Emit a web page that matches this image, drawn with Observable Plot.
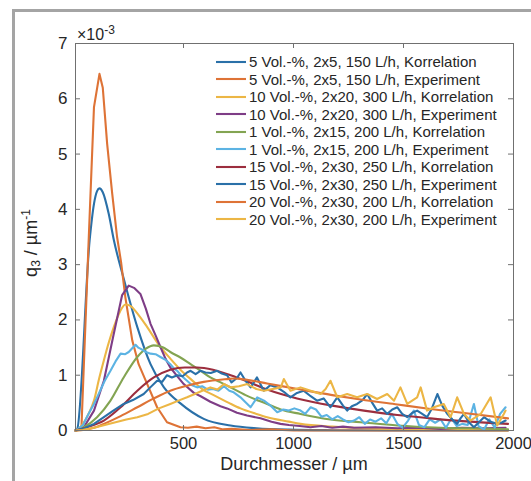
<!DOCTYPE html>
<html>
<head>
<meta charset="utf-8">
<script src="https://cdn.jsdelivr.net/npm/d3@7"></script>
<script src="https://cdn.jsdelivr.net/npm/@observablehq/plot@0.6"></script>
<style>
  html, body { margin: 0; padding: 0; background: #fff; }
  #wrap { position: relative; width: 531px; height: 481px; overflow: hidden; background: #fff;
          font-family: "Liberation Sans", Arial, Helvetica, sans-serif; color: #262626; }
  #wrap svg.plot { position: absolute; left: 0; top: 0; overflow: visible; }
  .frameTop { position: absolute; left: 12px; top: 9px; right: 0; height: 3px; background: #a4a4a4; }
  .frameLeft { position: absolute; left: 12px; top: 9px; bottom: 0; width: 3px; background: #a4a4a4; }
  .legend { position: absolute; left: 215px; top: 53px; font-size: 15px; line-height: 17.5px; }
  .legend .row { display: flex; align-items: center; height: 17.5px; white-space: nowrap; }
  .legend svg { display: block; margin-right: 2px; }
  .xlabel { position: absolute; left: 294px; top: 454px; transform: translateX(-50%); font-size: 18px; white-space: nowrap; }
  .ylabel { position: absolute; left: 31px; top: 243px; transform: translate(-50%, -50%) rotate(-90deg); font-size: 18px; white-space: nowrap; }
  .ylabel sub { font-size: 12px; vertical-align: -3px; }
  .ylabel sup { font-size: 12px; vertical-align: 7px; }
  .exp { position: absolute; left: 77px; top: 23px; font-size: 16px; white-space: nowrap; }
  .exp sup { font-size: 12px; vertical-align: 6px; }
</style>
</head>
<body>
<div id="wrap">
  <div class="frameTop"></div>
  <div class="frameLeft"></div>
</div>
<script>
// ---------- data (q3 in units of 10^-3 µm^-1, diameter in µm) ----------
const seriesNames = [
  "5 Vol.-%, 2x5, 150 L/h, Korrelation",
  "5 Vol.-%, 2x5, 150 L/h, Experiment",
  "10 Vol.-%, 2x20, 300 L/h, Korrelation",
  "10 Vol.-%, 2x20, 300 L/h, Experiment",
  "1 Vol.-%, 2x15, 200 L/h, Korrelation",
  "1 Vol.-%, 2x15, 200 L/h, Experiment",
  "15 Vol.-%, 2x30, 250 L/h, Korrelation",
  "15 Vol.-%, 2x30, 250 L/h, Experiment",
  "20 Vol.-%, 2x30, 200 L/h, Korrelation",
  "20 Vol.-%, 2x30, 200 L/h, Experiment"
];
const seriesColors = ["#2a70a8","#de7336","#ecb645","#7e3d86","#83a452","#5cb3e3","#9c2e3e","#2a70a8","#de7336","#ecb645"];
const xTicks = [500, 1000, 1500, 2000];
const yTicks = [0, 1, 2, 3, 4, 5, 6, 7];

const d1 = [9, 17, 73, 93, 107, 118, 133, 160, 183, 228, 290, 350, 411, 486, 592, 714, 831, 979, 1176, 1472, 1975];
const q1 = [0, 0.03, 3.43, 4.1, 4.33, 4.38, 4.31, 3.92, 3.45, 2.75, 1.87, 1.2, 0.78, 0.49, 0.21, 0.09, 0.04, 0.015, 0.005, 0, 0];

const d2 = [9, 36, 70, 93, 118, 133, 153, 176, 198, 216, 236, 267, 296, 335, 380, 425, 486, 520, 560, 600, 640, 680, 720, 800, 900, 1000, 1975];
const q2 = [0, 0.05, 3.56, 5.85, 6.45, 6.2, 5.18, 4.28, 3.5, 3.05, 2.4, 1.63, 1.2, 0.84, 0.42, 0.15, 0.06, 0.05, 0.07, 0.04, 0.06, 0.02, 0.03, 0.01, 0.02, 0, 0];

const d3 = [9, 19, 43, 68, 93, 117, 138, 161, 183, 211, 236, 260, 290, 335, 388, 440, 486, 547, 585, 637, 706, 759, 831, 880, 979, 1032, 1176, 1275, 1373, 1570, 1767, 1975];
const q3 = [0, 0.02, 0.12, 0.3, 0.54, 0.95, 1.27, 1.6, 1.87, 2.15, 2.28, 2.25, 2.12, 1.87, 1.55, 1.3, 1.1, 0.88, 0.75, 0.64, 0.5, 0.4, 0.3, 0.24, 0.16, 0.12, 0.07, 0.05, 0.035, 0.02, 0.01, 0.005];

const d4 = [9, 24, 47, 93, 138, 183, 221, 251, 275, 304, 329, 350, 373, 395, 418, 440, 472, 501, 547, 578, 622, 668, 698, 743, 789, 850, 900, 941, 979, 1028, 1077, 1127, 1176, 1225, 1275, 1373, 1472, 1570, 1669, 1767, 1866, 1964];
const q4 = [0, 0.01, 0.06, 0.36, 0.9, 1.75, 2.45, 2.62, 2.58, 2.47, 2.2, 1.93, 1.72, 1.51, 1.3, 1.14, 0.98, 0.84, 0.68, 0.62, 0.52, 0.44, 0.4, 0.32, 0.27, 0.22, 0.16, 0.12, 0.1, 0.08, 0.06, 0.08, 0.05, 0.07, 0.05, 0.06, 0.04, 0.05, 0.03, 0.05, 0.04, 0.05];

const d5 = [9, 47, 107, 168, 228, 290, 329, 365, 408, 440, 486, 532, 578, 622, 664, 714, 782, 880, 942, 1032, 1168, 1305, 1472, 1669, 1925, 1975];
const q5 = [0, 0.06, 0.24, 0.54, 0.96, 1.33, 1.48, 1.54, 1.5, 1.42, 1.32, 1.2, 1.08, 0.96, 0.88, 0.78, 0.64, 0.48, 0.38, 0.3, 0.2, 0.15, 0.09, 0.05, 0.03, 0.02];

const d6 = [9, 19, 43, 68, 93, 107, 142, 168, 191, 214, 235, 251, 270, 282, 294, 304, 329, 350, 373, 395, 418, 440, 457, 471, 493, 516, 539, 562, 585, 610, 634, 659, 684, 708, 728, 759, 790, 805, 835, 866, 895, 926, 954, 979, 1004, 1032, 1053, 1078, 1102, 1127, 1151, 1176, 1201, 1225, 1250, 1275, 1299, 1324, 1348, 1373, 1398, 1422, 1447, 1472, 1496, 1521, 1547, 1570, 1595, 1619, 1644, 1669, 1693, 1718, 1742, 1767, 1792, 1820, 1841, 1866, 1890, 1915, 1939, 1964];
const q6 = [0, 0.02, 0.1, 0.3, 0.48, 0.6, 0.9, 1.08, 1.25, 1.39, 1.38, 1.42, 1.5, 1.55, 1.5, 1.48, 1.42, 1.39, 1.38, 1.33, 1.28, 1.2, 1.12, 1.08, 0.98, 0.9, 0.82, 0.78, 0.8, 0.74, 0.75, 0.72, 0.8, 0.72, 0.69, 0.6, 0.48, 0.42, 0.6, 0.54, 0.45, 0.33, 0.38, 0.36, 0.4, 0.36, 0.3, 0.42, 0.38, 0.25, 0.28, 0.2, 0.26, 0.2, 0.15, 0.18, 0.24, 0.12, 0.2, 0.16, 0.22, 0.13, 0.3, 0.12, 0.05, 0.18, 0.36, 0.1, 0.06, 0.2, 0.14, 0.2, 0.05, 0.22, 0.08, 0.12, 0.1, 0.48, 0.08, 0.02, 0.2, 0.05, 0.3, 0.42];

const d7 = [9, 62, 138, 214, 290, 365, 440, 506, 562, 634, 714, 782, 880, 1016, 1176, 1320, 1472, 1623, 1767, 1975];
const q7 = [0, 0.06, 0.18, 0.42, 0.72, 0.96, 1.1, 1.14, 1.14, 1.1, 1.0, 0.9, 0.74, 0.58, 0.45, 0.36, 0.28, 0.22, 0.17, 0.12];

const d8 = [9, 43, 93, 138, 181, 228, 270, 319, 349, 380, 403, 425, 447, 472, 496, 516, 532, 555, 577, 600, 624, 653, 674, 698, 718, 743, 759, 782, 805, 834, 865, 895, 926, 956, 986, 1016, 1046, 1078, 1107, 1137, 1168, 1199, 1225, 1244, 1265, 1289, 1314, 1335, 1358, 1380, 1403, 1426, 1449, 1472, 1494, 1517, 1540, 1562, 1585, 1607, 1629, 1654, 1676, 1699, 1722, 1744, 1759, 1775, 1797, 1820, 1843, 1866, 1895, 1926, 1949, 1964];
const q8 = [0, 0.03, 0.12, 0.24, 0.36, 0.48, 0.55, 0.66, 0.78, 0.9, 0.88, 1.0, 0.96, 1.0, 0.98, 1.05, 1.08, 1.02, 1.08, 1.05, 1.04, 1.08, 1.03, 1.0, 0.87, 0.95, 1.05, 0.9, 0.78, 0.96, 0.72, 0.82, 0.78, 0.7, 0.6, 0.68, 0.72, 0.62, 0.54, 0.58, 0.42, 0.6, 0.45, 0.36, 0.44, 0.48, 0.55, 0.66, 0.5, 0.36, 0.4, 0.3, 0.38, 0.42, 0.3, 0.24, 0.32, 0.36, 0.3, 0.24, 0.4, 0.66, 0.45, 0.3, 0.2, 0.12, 0.22, 0.3, 0.15, 0.06, 0.15, 0.24, 0.16, 0.12, 0.15, 0.18];

const d9 = [9, 43, 93, 138, 214, 290, 365, 440, 516, 592, 698, 728, 782, 880, 1032, 1176, 1305, 1472, 1623, 1767, 1975];
const q9 = [0, 0.01, 0.05, 0.12, 0.26, 0.42, 0.58, 0.72, 0.81, 0.88, 0.93, 0.94, 0.92, 0.85, 0.74, 0.64, 0.56, 0.47, 0.39, 0.32, 0.22];

const d10 = [9, 43, 93, 142, 191, 240, 290, 339, 388, 440, 477, 516, 546, 585, 622, 654, 684, 714, 752, 790, 831, 866, 905, 942, 956, 986, 1032, 1078, 1123, 1146, 1168, 1199, 1244, 1289, 1335, 1380, 1426, 1457, 1486, 1517, 1562, 1578, 1607, 1638, 1683, 1714, 1744, 1775, 1804, 1851, 1896, 1926, 1956, 1964];
const q10 = [0, 0.01, 0.05, 0.1, 0.15, 0.2, 0.24, 0.3, 0.4, 0.48, 0.54, 0.6, 0.65, 0.72, 0.78, 0.74, 0.84, 0.78, 0.8, 0.84, 0.75, 0.72, 0.75, 0.78, 0.93, 0.72, 0.78, 0.72, 0.66, 0.75, 0.9, 0.6, 0.66, 0.6, 0.66, 0.57, 0.66, 0.54, 0.78, 0.48, 0.6, 0.78, 0.36, 0.42, 0.48, 0.24, 0.6, 0.3, 0.18, 0.3, 0.6, 0.09, 0.3, 0.36];

// ---------- build ----------
const D = [d1, d2, d3, d4, d5, d6, d7, d8, d9, d10];
const Q = [q1, q2, q3, q4, q5, q6, q7, q8, q9, q10];
const rows = D.map((ds, i) => ds.map((d, j) => ({d, q: Q[i][j], s: i})));

const W = 531, H = 481, mL = 75, mR = 18, mT = 43, mB = 51;
const innerW = W - mL - mR, innerH = H - mT - mB, tickLen = 5;
const axisColor = "#707070";
const FONT = '"Liberation Sans", Arial, Helvetica, sans-serif';
const fmt = d => String(d);

const lineMarks = rows.map((r, i) => Plot.line(r, {
  x: "d", y: "q", stroke: seriesColors[i], strokeWidth: 2.1,
  curve: seriesNames[i].endsWith("Korrelation") ? "monotone-x" : "linear"
}));

const chart = Plot.plot({
  width: W, height: H,
  marginLeft: mL, marginRight: mR, marginTop: mT, marginBottom: mB,
  style: {fontFamily: FONT, fontSize: "17px", color: "#262626", background: "transparent", overflow: "visible"},
  x: {domain: [9, 2000]},
  y: {domain: [0, 7]},
  marks: [
    ...lineMarks,
    Plot.frame({stroke: axisColor, strokeWidth: 1}),
    Plot.ruleX(xTicks, {stroke: axisColor, insetTop: innerH - tickLen}),
    Plot.ruleX(xTicks, {stroke: axisColor, insetBottom: innerH - tickLen}),
    Plot.ruleY(yTicks, {stroke: axisColor, insetRight: innerW - tickLen}),
    Plot.ruleY(yTicks, {stroke: axisColor, insetLeft: innerW - tickLen}),
    Plot.axisX(xTicks, {tickSize: 0, tickPadding: 7, label: null, fontSize: 16.5, fill: "#262626", tickFormat: fmt}),
    Plot.axisY(yTicks, {tickSize: 0, tickPadding: 8, label: null, fontSize: 17, fill: "#262626", tickFormat: fmt})
  ]
});

const wrap = document.getElementById("wrap");
wrap.insertBefore(chart, wrap.firstChild);

// legend
const legend = document.createElement("div");
legend.className = "legend";
seriesNames.forEach((name, i) => {
  const row = document.createElement("div");
  row.className = "row";
  row.innerHTML = `<svg width="32" height="6"><line x1="1" x2="31" y1="3" y2="3" stroke="${seriesColors[i]}" stroke-width="2.1"/></svg><span>${name}</span>`;
  legend.appendChild(row);
});
wrap.appendChild(legend);

// axis titles and exponent
const xl = document.createElement("div");
xl.className = "xlabel";
xl.textContent = "Durchmesser / µm";
wrap.appendChild(xl);

const yl = document.createElement("div");
yl.className = "ylabel";
yl.innerHTML = "q<sub>3</sub> / µm<sup>-1</sup>";
wrap.appendChild(yl);

const ex = document.createElement("div");
ex.className = "exp";
ex.innerHTML = "×10<sup>-3</sup>";
wrap.appendChild(ex);
</script>
</body>
</html>
